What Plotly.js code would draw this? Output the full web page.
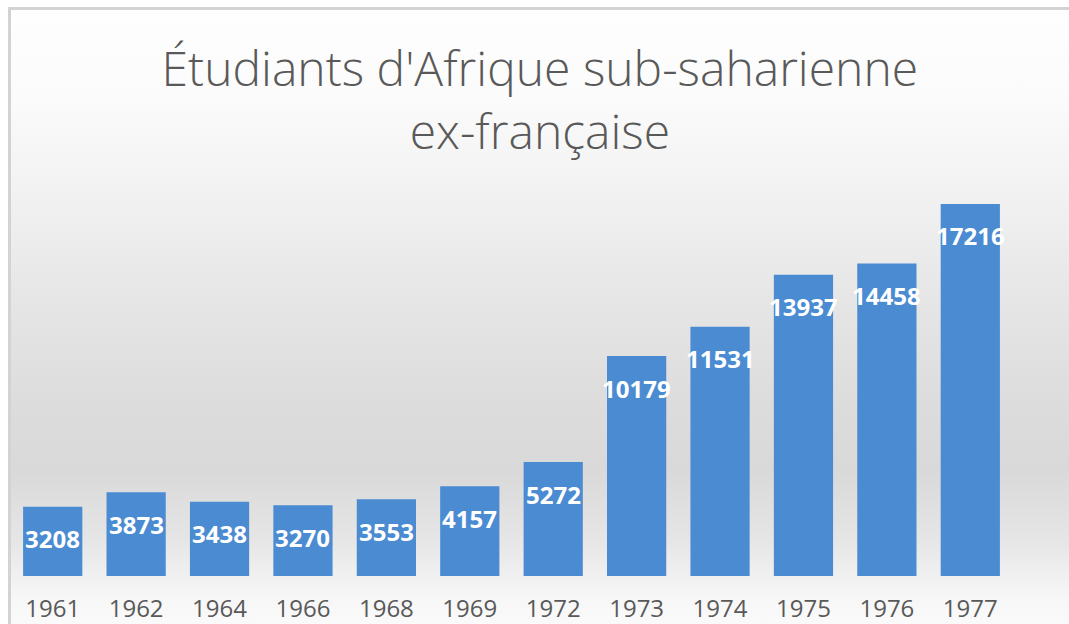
<!DOCTYPE html>
<html>
<head>
<meta charset="utf-8">
<script src="https://cdn.plot.ly/plotly-3.0.1.min.js"></script>
<style>
  html, body { margin: 0; padding: 0; background: #ffffff; }
  #wrap { position: relative; width: 1069px; height: 624px; overflow: hidden; background: #ffffff; }
  #frame {
    position: absolute; left: 8px; top: 7px; width: 1080px; height: 640px;
    border-left: 3px solid #d3d3d3; border-top: 3px solid #d3d3d3;
    background: linear-gradient(to bottom, #fefefe 0%, #fbfbfb 14%, #f2f2f2 28%, #e6e6e6 45%, #dcdcdc 62%, #d9d9d9 72%, #e6e6e6 83%, #f7f7f7 92%, #fdfdfd 100%);
  }
  #chart { position: absolute; left: 0; top: 0; width: 1069px; height: 624px; }
</style>
</head>
<body>
<div id="wrap">
  <div id="frame"></div>
  <div id="chart"></div>
</div>
<script>
const years = ['1961','1962','1964','1966','1968','1969','1972','1973','1974','1975','1976','1977'];
const students = [3208, 3873, 3438, 3270, 3553, 4157, 5272, 10179, 11531, 13937, 14458, 17216];
const chartTitle = "Étudiants d'Afrique sub-saharienne<br>ex-française";

const trace = {
  type: 'bar',
  x: years,
  y: students,
  marker: { color: '#4a8bd2', line: { width: 0 } },
  hoverinfo: 'x+y'
};

const annotations = years.map((yr, i) => ({
  x: i,
  y: students[i],
  xref: 'x',
  yref: 'y',
  text: String(students[i]),
  showarrow: false,
  yanchor: 'middle',
  yshift: -32,
  font: { family: 'Open Sans, sans-serif', size: 24, color: '#ffffff', weight: 700 }
}));

const layout = {
  width: 1069,
  height: 624,
  margin: { l: 11, r: 57, t: 190, b: 48 },
  paper_bgcolor: 'rgba(0,0,0,0)',
  plot_bgcolor: 'rgba(0,0,0,0)',
  title: {
    text: chartTitle,
    x: 0.505,
    xanchor: 'center',
    y: 0.862,
    yanchor: 'top',
    yref: 'container',
    font: { family: 'Open Sans, sans-serif', size: 48, color: '#595959', weight: 300 }
  },
  bargap: 0.29,
  showlegend: false,
  xaxis: {
    type: 'category',
    categoryorder: 'array',
    categoryarray: years,
    range: [-0.5, years.length - 0.5],
    autorange: false,
    showgrid: false,
    zeroline: false,
    showline: false,
    ticks: 'outside',
    ticklen: 11,
    tickcolor: 'rgba(0,0,0,0)',
    tickfont: { family: 'Open Sans, sans-serif', size: 24, color: '#595959' },
    fixedrange: true
  },
  yaxis: {
    range: [0, 17863],
    autorange: false,
    visible: false,
    showgrid: false,
    zeroline: false,
    fixedrange: true
  },
  annotations: annotations
};

Plotly.newPlot('chart', [trace], layout, { displayModeBar: false, staticPlot: true });
</script>
</body>
</html>
